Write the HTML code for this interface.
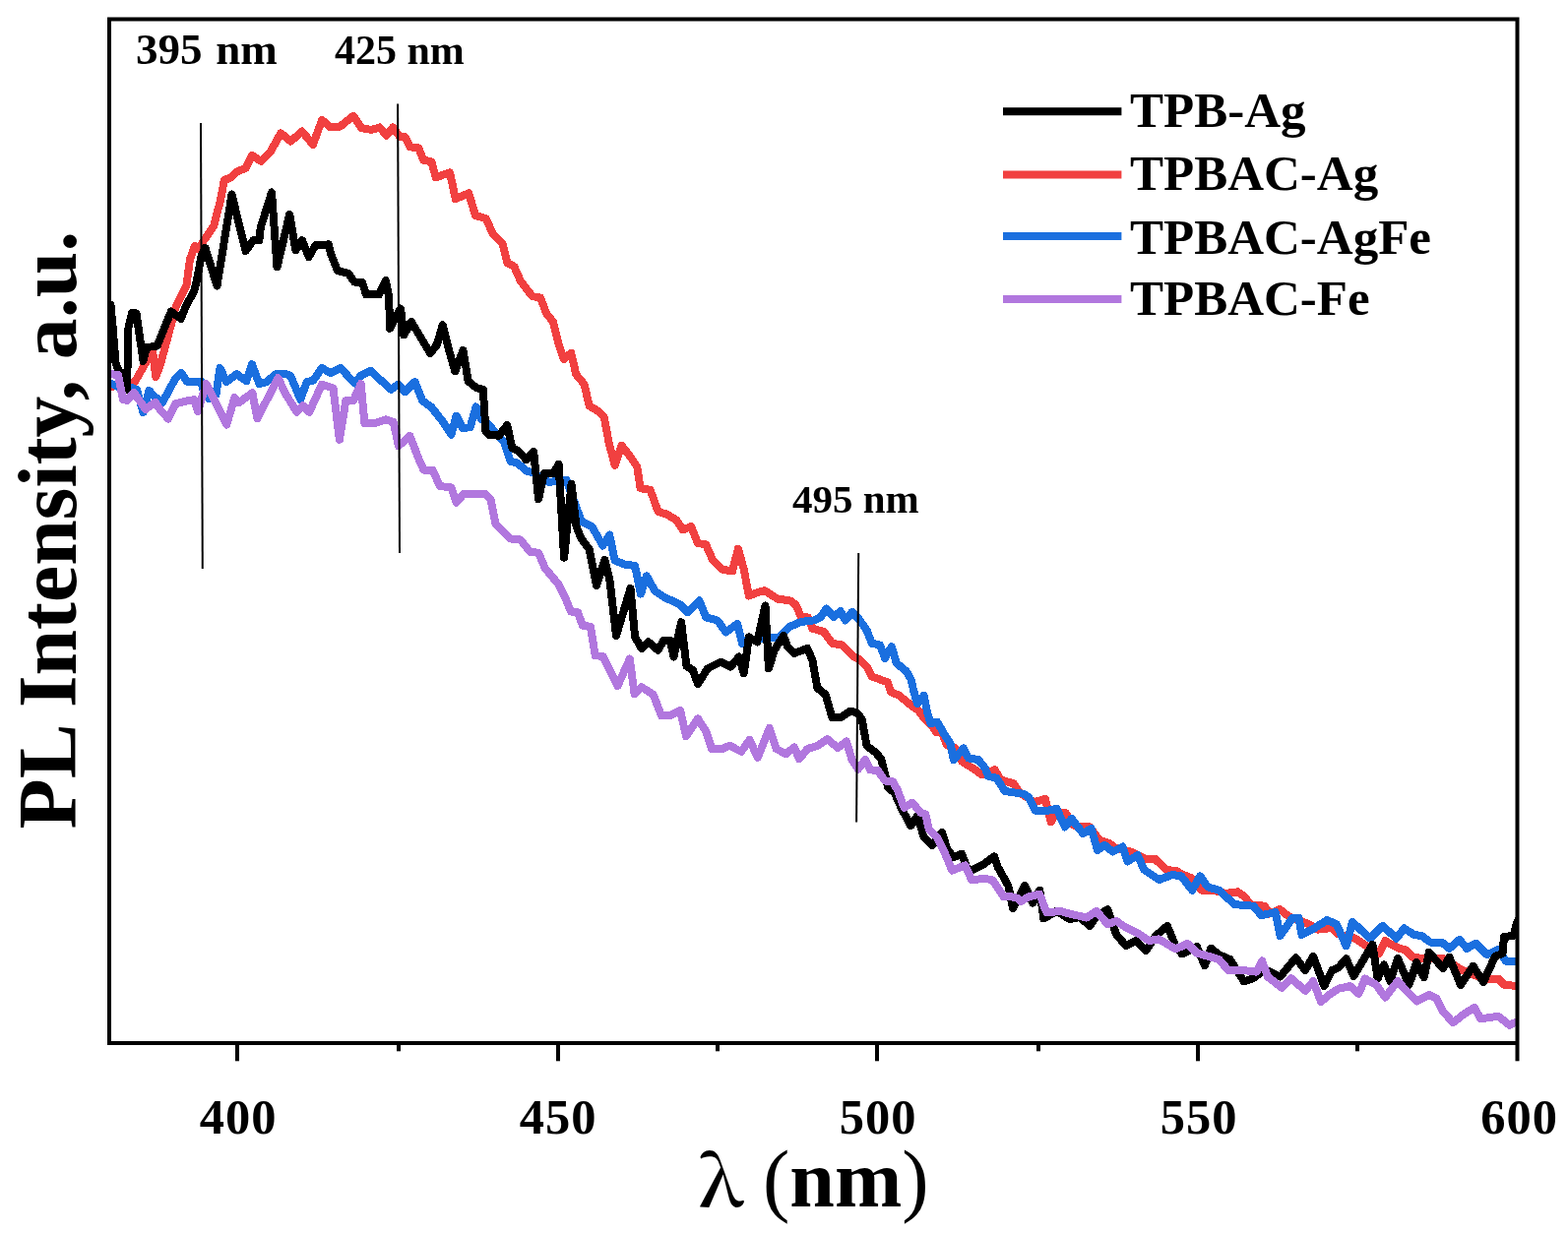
<!DOCTYPE html>
<html><head><meta charset="utf-8"><title>PL spectra</title><style>html,body{margin:0;padding:0;background:#fff;overflow:hidden}svg{display:block}</style></head><body>
<svg width="1593" height="1253" viewBox="0 0 1593 1253">
<rect width="1593" height="1253" fill="#fff"/>
<defs><clipPath id="c"><rect x="111" y="19.5" width="1430.5" height="1040.5"/></clipPath></defs>
<g clip-path="url(#c)" fill="none" stroke-width="8" stroke-linejoin="round" stroke-linecap="round" shape-rendering="crispEdges">
<polyline stroke="#F14040" points="111,393 131,391 137,388 153,360 155.3,358 158.3,383 163,370 172,337 178.7,311.3 189.5,289.8 193,263.4 197.9,250 202.5,254 206,246 217,230 224,203.5 227.8,183 233.8,180.8 240,175 250,170.5 255.9,157.9 265.1,163.8 275.1,153.7 285.2,135.3 295.3,143.6 307,133.6 317.9,147 327.1,121.9 335.5,129.4 345.6,128.6 359,117.7 367.4,130.2 377.4,131.9 385.8,129.4 392.5,137.8 399.2,129.4 405.9,138.6 411.7,139.3 416.7,149.3 425.1,150.2 430.1,162.7 438.5,164.4 442.7,180.4 457,175.3 462.8,202.1 476.2,196.3 483,218.9 493.9,222.3 500.6,237.4 510.6,247.4 515.6,267.5 522.4,270.9 529.1,286 540.8,301.1 549.2,302.7 555.1,318.5 561.8,326.9 566.8,347 572.7,365 580.2,358.7 585.3,380.5 593.6,390.6 598.7,412.4 607.1,417.4 613.8,424.1 618.8,450.9 624.7,472.7 631.4,452.6 640.6,464.4 647.3,474.4 650.6,496.2 660.7,497.9 668.6,520 677,522.5 687.1,528.4 693.8,538.4 702.1,535.1 708.9,551.9 717.2,553.5 723.9,568.6 734,578.7 744.1,580.4 749.9,557.7 755.8,578.7 760.8,605.5 770,601.9 776.7,600.2 790.1,608.6 803,610.5 808.5,614.5 813.5,626 821,627.5 825.3,638.7 837.1,642.1 845.4,653.8 855.5,655.5 867.2,667.2 873.9,670.6 880.6,677.3 885.7,687.4 901.8,693.4 905.1,703.4 913.5,706.8 925.3,716.5 933.6,722.5 937,727.5 947.5,738.5 951,744 957,744.5 962,757 970.5,760.4 977.2,773.8 990.6,782.2 997.4,787.2 1010.8,782.2 1016,792 1030,796.5 1036,806 1044.3,810.7 1050,815.2 1061.8,811.9 1067.7,835.3 1073,826 1082.7,826.1 1089.5,838 1096,840.5 1107.1,840.4 1117.1,853.8 1127.2,857.1 1133.9,862.1 1149,865.5 1163,872.5 1173,872.5 1185,884 1195.5,885 1200,888 1209.6,891.9 1220.8,904.7 1231.9,904.7 1244.7,907.9 1257.5,906.3 1264,911 1271,919.5 1284.6,920.7 1290,928.5 1300,924 1310.1,931.8 1327.7,938.2 1338.9,944.6 1353.2,943 1359.6,949.4 1376.6,953.6 1388.1,961.3 1400.9,968.9 1407.2,956.2 1421.3,963.8 1427.7,965.1 1435.3,972.8 1446.8,974.1 1466,974.1 1474.9,979.2 1482.6,984.3 1494.1,989.4 1506.8,994.5 1522.2,994.5 1528.5,1000.9 1542,1002"/>
<polyline stroke="#1A6FDF" points="111,389 120,393 131,393 139,396 145.5,419 151.5,397 157,403 165,409 178,385 184.1,379.1 190.1,387.7 204.2,387.7 207,398 212,405 219.5,401 223.5,374 230,388 240.4,380.1 250.4,387.2 255.9,370.1 263.5,390.2 270.5,388.2 280.5,380.1 290.6,380.1 295.1,381.7 305.3,406 311.7,388.1 318.1,386.8 327,374 336,379.2 346.2,374 356.4,385.5 360.2,389.4 366.6,381.7 376.8,376.6 385.8,385.5 397.3,395.8 404.9,390.6 411.3,398.3 421.5,388.1 429.2,407.2 438.1,413.6 448.3,426.4 458.5,441.7 463.6,422.6 470,435.3 477.7,434.1 483.6,413.5 488.4,425.1 498.5,433.5 503.5,440.2 511.9,448.6 518.6,468.7 525.3,470.4 535.4,478.8 542.1,480.5 557.2,489.7 564.9,489.3 575.6,488 590.7,530 601.6,535.5 612.4,554.5 619.2,543.6 624.6,569.4 634.1,573.5 645.1,575 651,603.5 656.9,585.4 665.3,600.5 675.3,607.2 690.4,613.9 698.8,622.3 710.5,610.5 717.2,627.3 729,630.6 737.4,642.4 749.1,634 754.1,654.1 765,650 783.4,648 791.8,648 801.9,637.1 813.6,632 827,630.4 833.7,627 839.6,618.6 847.1,627 853.8,621.1 858.9,630.4 865.6,622 872.3,628.7 880.6,640.4 885.7,653.8 894.1,655.5 899.1,668.9 905.8,657.2 910.8,673.9 920.9,682.3 925.3,690 928.6,703.4 932,715.1 938.7,706.8 942,723.5 945.4,735.3 952.1,733.6 958.8,745.3 965.5,755.4 968.9,772.1 978.9,760.4 983.9,770.5 994,772.1 1000.7,780.5 1004.1,788.9 1012.4,790.6 1020.8,804 1040,806.8 1045,810.2 1051.7,823.6 1065.1,823.6 1073.5,821.9 1081.9,840.4 1088.6,832 1100.4,847.1 1108.7,842 1115,864 1122.1,858.8 1130.5,865.5 1140.6,860.5 1145.6,875.6 1155.7,868.9 1162.4,883.9 1177.5,894 1190.9,889 1200,890.3 1211.2,904.7 1219.2,890.3 1227.1,901.5 1238.3,904.7 1254.3,919.1 1273.4,920.7 1281.4,930.2 1295.8,927 1300.6,951 1313,933 1319.5,933 1322.5,950 1335.7,943 1348.4,935 1358,939.5 1367.7,961.3 1374,937 1391.9,953.6 1404.7,940.9 1418.7,953.6 1426.4,943.4 1436.6,949.8 1444.3,951.1 1453.2,957.5 1464.7,957.5 1472.4,963.8 1482.6,954.9 1490.2,963.8 1499.2,958.7 1510.7,970.2 1522.2,965.1 1529.8,976.6 1542,976.6"/>
<polyline stroke="#000000" points="112.5,310 114.5,331 117.5,369 129,396 130.5,333 134,318 138.5,318.5 145.5,367 149,353 153,352.5 159.7,351.5 173.8,316.6 183.7,323.8 189.3,310.2 197.3,295.9 200.9,280 204.5,260 208.5,252 220.5,290.5 235.5,197.5 249.5,255 257.5,244 263.4,244.2 264.8,231 276,195.5 281.5,271.5 294.2,217.8 300.3,254.3 307,244.2 313.7,261 320.4,249.3 333.8,248.4 336,258 343,275 354,278 360,286.5 368,287 372,299.5 385.1,299.4 391.9,285.1 395.2,301.9 396,333.8 407,313.6 410.3,340.5 417.8,327 427,342.1 437.1,358.9 443.8,350.5 449.7,330.4 455.6,353.9 462.3,377.4 470.5,356 475.7,387.4 484.1,394.1 490.8,395.8 493.5,438.6 496.8,441.9 506.9,442.7 515.3,431.9 520.3,455.3 527,458.7 534.5,467.1 542.1,458.7 547.1,507.3 552.7,481.2 562.2,481.2 567.6,471.7 573.1,566.7 580.5,492 585.5,535 590.7,547.7 598.8,558.5 606,595 614.5,569 619.5,590 626,646 640.5,598 645.1,647.4 651.9,659.1 658.6,652.4 668.6,660.8 674,651 681,651 684.5,667.5 692.1,632.3 697.5,677 704,681 709,695 718.9,679.3 732.3,672.6 742.4,677.6 750.8,667.5 755.8,684.3 760.8,647.4 769.2,652.4 777.5,615.5 780.9,679.3 786.8,660.5 796,646 800.2,657.2 806.9,663.9 820.3,658.9 825.3,670.6 830.4,699.1 838.7,705.8 845.4,729.3 853.8,729.3 863.9,722.6 870.6,724.2 875.6,730.9 880.6,757.8 889.5,764.7 895.1,771.1 898.4,783.9 902,800 909,806 916,822 925.3,839.2 932,829.1 938.7,851 947.1,859.3 957.1,845.9 962.1,862.7 968.9,871.1 977.2,867.7 983.9,886.1 999.6,878 1010,870.4 1014,881.6 1024.3,900 1029.1,923.1 1041.1,900 1049.1,917.5 1056.3,904.7 1060.3,933.5 1073.5,925.9 1086.9,934.2 1097,932 1107.1,941 1113.8,930.9 1125.5,924.2 1133.9,949.3 1143.9,961.1 1154,956 1164.1,966.1 1174.1,951 1185.9,940.9 1194.2,961.1 1200.9,969.4 1207.6,966.1 1216,962.2 1223.9,981.3 1230.3,963.7 1238.3,970.1 1249.5,974.9 1263.8,997.3 1273.4,994.1 1285,985 1300.6,992.5 1316.5,973.3 1326.1,986.1 1334.1,971.7 1345.3,1002 1353.2,986.1 1360,983 1367.7,974.1 1375.3,991.9 1394.5,960 1399.6,994.5 1406,980.4 1412.3,997 1420,974.1 1431.5,1000.9 1439.2,977.9 1446.8,993.2 1451.9,967.7 1466,984.3 1472.4,972.8 1483.9,1000.9 1496.6,981.7 1507,998 1519,972 1526.5,969 1528,952 1537.5,951 1541,938 1543,934"/>
<polyline stroke="#B177DE" points="111,380 120,381 125,406 129,407 136,399 148,416 153,412 158,409 164,418 171,425.5 178.1,410.3 190.1,407.3 197.2,406.2 201,418 209.4,390 230.3,431.5 238.3,404.2 242.4,409.3 256.4,399.2 261.4,425.3 282.5,384.1 290,400 301.5,418.7 307.9,412.3 314.3,418.7 327,390.6 338.5,394.5 344.9,446.8 351.3,407.2 358.9,407.2 366.6,390 370.4,430 379.4,430.5 392.1,426.4 399.8,429 404.9,453.2 416.4,443 425.3,466 430.4,477.5 439.4,477.5 447,494.1 458.5,495.3 463.6,510.7 471.3,501.7 480,501.7 493.5,502.3 498.5,507.3 503.5,532.4 511.9,540.8 518.6,547.5 528.7,548.4 538.7,560.9 547.1,561.8 553.8,577.7 560,584.8 567.2,593.6 574.4,608 580,621.5 587.1,622.3 591.9,635.9 599.9,636.7 604.7,666.2 612.7,667 627.5,697 639.8,669.5 644.6,705.3 651.7,698.2 663.7,705.9 672,727.4 681.6,726.8 691.1,722 697.1,748.3 709,730.4 717.3,743.5 723.3,761.4 732.9,761.4 741.2,757.8 753.1,763.8 761.5,751.8 769.8,769.7 781.8,740 788.6,761 798.5,766.1 806.9,759.4 811.9,771.2 820.3,761.1 830.4,757.8 840.4,751.1 851.2,759.9 860,753.5 865.5,771.9 871.9,781.5 879.1,771.9 883.9,782.3 891.9,783.1 899.1,793.5 907.1,794.3 911.9,803 918.6,820.8 926.9,815.7 935.3,825.8 940.4,827.5 943.7,842.6 952.1,850.9 958.8,864.4 967.2,884.5 980.6,879.4 987.3,894.5 999.6,892.7 1008.4,894.3 1019.5,911.1 1026.7,911.1 1033.9,912.7 1037.1,915.9 1045.9,911.1 1056.3,908.7 1061.9,923.9 1063.5,927.5 1076.9,925.9 1088.6,929.2 1097,930.9 1103.7,932.6 1113.8,925.9 1125.5,939.3 1133.9,935.9 1143.9,942.6 1157.4,949.3 1167.4,956 1177.5,954.4 1194.2,964.4 1206.4,959 1216,968.5 1238.3,974.9 1247.9,986.1 1263.8,986.1 1276.6,987.7 1282.2,976.5 1287.8,992.5 1302.2,1003.7 1311.7,994.1 1326.1,1006.8 1334.1,997.3 1342.1,1018 1351.6,1010 1360,1004.7 1371.5,1002.1 1380.4,1009.8 1386.8,994.5 1398.3,1000.9 1407.2,1013.6 1420,997 1430.2,1008.5 1439.2,1017.5 1451.9,1011.1 1459.6,1014.9 1466,1027.7 1476.2,1039.2 1487.7,1030.2 1497.9,1023.9 1504.3,1035.3 1522.2,1032.8 1533.6,1041.7 1542,1037.9"/>
</g>
<g stroke="#000" stroke-width="2">
<line x1="204" y1="125" x2="205.8" y2="578"/>
<line x1="404.1" y1="105.4" x2="406" y2="562"/>
<line x1="872.2" y1="562" x2="870.1" y2="835.6"/>
</g>
<rect x="111" y="19.5" width="1430.5" height="1040.5" fill="none" stroke="#000" stroke-width="4"/>
<g stroke="#000" stroke-width="4">
<line x1="241" y1="1062" x2="241" y2="1078.3"/>
<line x1="567" y1="1062" x2="567" y2="1078.3"/>
<line x1="891" y1="1062" x2="891" y2="1078.3"/>
<line x1="1217" y1="1062" x2="1217" y2="1078.3"/>
<line x1="1541.5" y1="1062" x2="1541.5" y2="1078.3"/>
<line x1="405" y1="1062" x2="405" y2="1068.3"/>
<line x1="729" y1="1062" x2="729" y2="1068.3"/>
<line x1="1055" y1="1062" x2="1055" y2="1068.3"/>
<line x1="1379" y1="1062" x2="1379" y2="1068.3"/>
</g>
<g font-family='"Liberation Serif", serif' font-weight="bold" font-size="50.5" letter-spacing="1" text-anchor="middle" fill="#000">
<text x="242" y="1152">400</text>
<text x="567" y="1152">450</text>
<text x="892" y="1152">500</text>
<text x="1218" y="1152">550</text>
<text x="1543.5" y="1152">600</text>
</g>
<text font-family='"Noto Serif CJK SC", "Liberation Serif", serif' font-size="70" font-weight="600" transform="translate(709.5,1225.5) scale(1.08,1)" x="0" y="0" fill="#000">λ</text>
<text font-family='"Liberation Serif", serif' font-weight="bold" font-size="82" x="775" y="1226" fill="#000"><tspan font-weight="normal">(</tspan>nm<tspan font-weight="normal">)</tspan></text>
<text font-family='"Liberation Serif", serif' font-weight="bold" font-size="83.8" transform="translate(77,842.5) rotate(-90)" fill="#000">PL Intensity, a.u.</text>
<g font-family='"Liberation Serif", serif' font-weight="bold" fill="#000">
<text x="138" y="65" font-size="45">395<tspan dx="2.5"> nm</tspan></text>
<text x="340" y="65" font-size="42">425 nm</text>
<text x="805" y="521" font-size="41">495 nm</text>
</g>
<line x1="1019" y1="113.3" x2="1139.4" y2="113.3" stroke="#000000" stroke-width="8"/>
<text x="1148" y="128.6" font-family='"Liberation Serif", serif' font-weight="bold" font-size="51" fill="#000">TPB-Ag</text>
<line x1="1019" y1="177.5" x2="1139.4" y2="177.5" stroke="#F14040" stroke-width="8"/>
<text x="1148" y="193.2" font-family='"Liberation Serif", serif' font-weight="bold" font-size="51" fill="#000">TPBAC-Ag</text>
<line x1="1019" y1="240" x2="1139.4" y2="240" stroke="#1A6FDF" stroke-width="8"/>
<text x="1148" y="257.5" font-family='"Liberation Serif", serif' font-weight="bold" font-size="51" fill="#000">TPBAC-AgFe</text>
<line x1="1019" y1="304" x2="1139.4" y2="304" stroke="#B177DE" stroke-width="8"/>
<text x="1148" y="319.6" font-family='"Liberation Serif", serif' font-weight="bold" font-size="51" fill="#000">TPBAC-Fe</text>
</svg>
</body></html>
